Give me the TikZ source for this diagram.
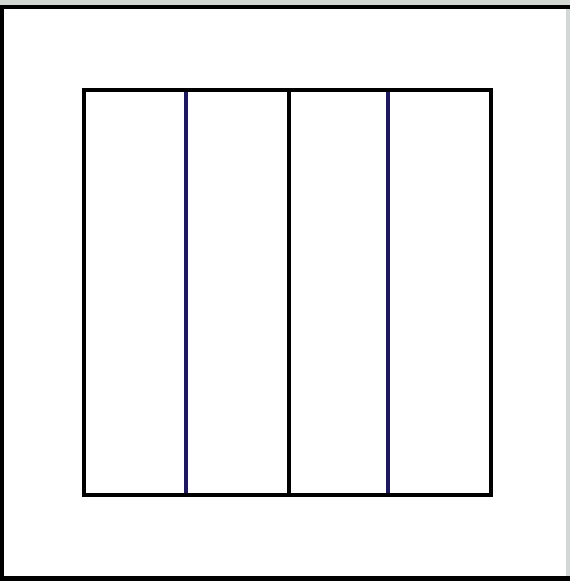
\documentclass[tikz,border=0pt]{standalone}
\definecolor{frame}{RGB}{212,216,212}
\definecolor{navy}{RGB}{30,25,95}
\begin{document}
\begin{tikzpicture}[x=0.02cm, y=-0.02cm]
				\useasboundingbox (0,0) rectangle (570,581);
				\fill[frame] (0,0) rectangle (570,6);
				\fill[frame] (566,0) rectangle (570,581);
				\fill[black] (0,5) rectangle (570,9);
				\fill[black] (0,5) rectangle (4,581);
				\fill[black] (0,576) rectangle (570,581);
				\path 
				(84,90) coordinate (A)
				++(407,0) coordinate (B)
				++(0,405) coordinate (C)
				++(-407,0) coordinate (D);
				\foreach \x/\c in {186/navy, 289/black, 388/navy}
				\draw[line width=1.8pt, \c] (\x,90)--(\x,495);
				\draw[line width=2.1pt] (A)--(B)--(C)--(D)--cycle;
			\end{tikzpicture}
\end{document}
